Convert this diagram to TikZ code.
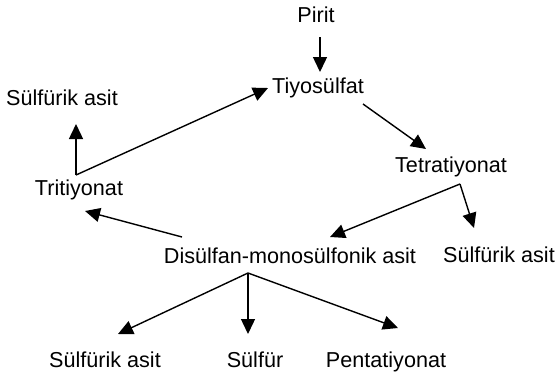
\documentclass[tikz,border=0pt]{standalone}
\usepackage{fontspec}
\setmainfont{Liberation Sans}
\usetikzlibrary{arrows.meta}
\begin{document}
\begin{tikzpicture}[x=1pt,y=-1pt,
  lbl/.style={anchor=base,inner sep=0pt,font=\fontsize{21.6}{25}\selectfont},
  arr/.style={line width=1.4pt,-{Triangle[length=15pt,width=14pt]}},
  ln/.style={line width=1.4pt}]
\useasboundingbox (0,0) rectangle (559,376);
\node[lbl] (pirit) at (316,22) {Pirit};
\node[lbl] (tiyo) at (318,93) {Tiyosülfat};
\node[lbl] (tetra) at (451,172) {Tetratiyonat};
\node[lbl] (sar) at (499,262) {Sülfürik asit};
\node[lbl] (disul) at (290,263) {Disülfan-monosülfonik asit};
\node[lbl] (tri) at (79,195) {Tritiyonat};
\node[lbl] (sal) at (62,105) {Sülfürik asit};
\node[lbl] (sab) at (105,367) {Sülfürik asit};
\node[lbl] (sul) at (255,367) {Sülfür};
\node[lbl] (penta) at (386,367) {Pentatiyonat};
% coordinates
\coordinate (c1a) at (320,37);
\coordinate (c1b) at (320,72);
\coordinate (c2a) at (363,104);
\coordinate (c2b) at (426,149);
\coordinate (c3) at (460,184);
\coordinate (c3r) at (474,228);
\coordinate (c3l) at (330,237);
\coordinate (c4a) at (182,237);
\coordinate (c4b) at (85,211);
\coordinate (c5) at (76,175);
\coordinate (c5u) at (76,124);
\coordinate (c5r) at (268,88);
\coordinate (c6) at (248,273);
\coordinate (c6l) at (118,334);
\coordinate (c6d) at (248,334);
\coordinate (c6r) at (398,328);
\draw[arr] (c1a) -- (c1b);
\draw[arr] (c2a) -- (c2b);
\draw[arr] (c3) -- (c3r);
\draw[arr] (c3) -- (c3l);
\draw[arr] (c4a) -- (c4b);
\draw[arr] (c5) -- (c5u);
\draw[arr] (c5) -- (c5r);
\draw[arr] (c6) -- (c6l);
\draw[arr] (c6) -- (c6d);
\draw[arr] (c6) -- (c6r);
\end{tikzpicture}
\end{document}
